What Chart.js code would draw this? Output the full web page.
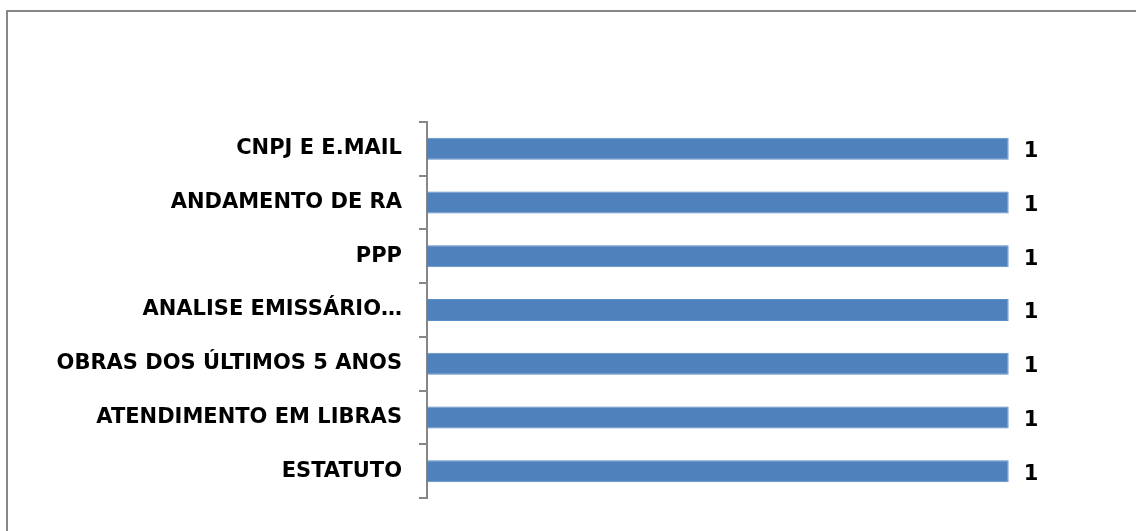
<!DOCTYPE html>
<html>
<head>
<meta charset="utf-8">
<script src="https://cdn.jsdelivr.net/npm/chart.js@4/dist/chart.umd.min.js"></script>
<style>
    body { margin: 0; background: #fff; }
    #wrap { position: relative; width: 1136px; height: 531px; overflow: hidden; }
    #frame {
        position: absolute; left: 6px; top: 10px; width: 1140px; height: 540px;
        border-top: 2px solid #878787; border-left: 2px solid #878787;
    }
    canvas { position: absolute; left: 0; top: 0; }
</style>
</head>
<body>
<div id="wrap">
    <div id="frame"></div>
    <canvas id="chart" width="1136" height="531"></canvas>
</div>
<script>
const categories = [
    'CNPJ E E.MAIL',
    'ANDAMENTO DE RA',
    'PPP',
    'ANALISE EMISSÁRIO…',
    'OBRAS DOS ÚLTIMOS 5 ANOS',
    'ATENDIMENTO EM LIBRAS',
    'ESTATUTO'
];
const values = [1, 1, 1, 1, 1, 1, 1];

const labelFont = { family: '"DejaVu Sans", sans-serif', size: 21, weight: 'bold' };

// draw the "1" next to each bar end
const valueLabels = {
    id: 'valueLabels',
    afterDatasetsDraw(chart) {
        const ctx = chart.ctx;
        const meta = chart.getDatasetMeta(0);
        ctx.save();
        ctx.font = 'bold 21px "DejaVu Sans", sans-serif';
        ctx.fillStyle = '#000';
        ctx.textBaseline = 'middle';
        ctx.textAlign = 'left';
        meta.data.forEach((bar, i) => {
            ctx.fillText(String(values[i]), bar.x + 15, bar.y + 3);
        });
        ctx.restore();
    }
};

const ctx = document.getElementById('chart').getContext('2d');
const myChart = new Chart(ctx, {
    type: 'bar',
    data: {
        labels: categories,
        datasets: [{
            data: values,
            backgroundColor: '#4F81BD',
            borderColor: '#5B8CC6',
            borderWidth: 1,
            barPercentage: 0.41,
            categoryPercentage: 1.0
        }]
    },
    options: {
        indexAxis: 'y',
        responsive: false,
        animation: false,
        layout: {
            padding: { top: 122, bottom: 33, right: 11, left: 0 }
        },
        plugins: {
            legend: { display: false },
            tooltip: { enabled: false }
        },
        scales: {
            x: {
                display: false,
                min: 0,
                max: 1.2
            },
            y: {
                afterFit(scale) { scale.width = 427; },
                border: { display: true, color: '#878787', width: 2 },
                grid: {
                    offset: true,
                    drawOnChartArea: false,
                    drawTicks: true,
                    tickLength: 8,
                    color: '#878787',
                    lineWidth: 2
                },
                ticks: {
                    color: '#000',
                    font: labelFont,
                    padding: 17
                }
            }
        }
    },
    plugins: [valueLabels]
});
</script>
</body>
</html>
